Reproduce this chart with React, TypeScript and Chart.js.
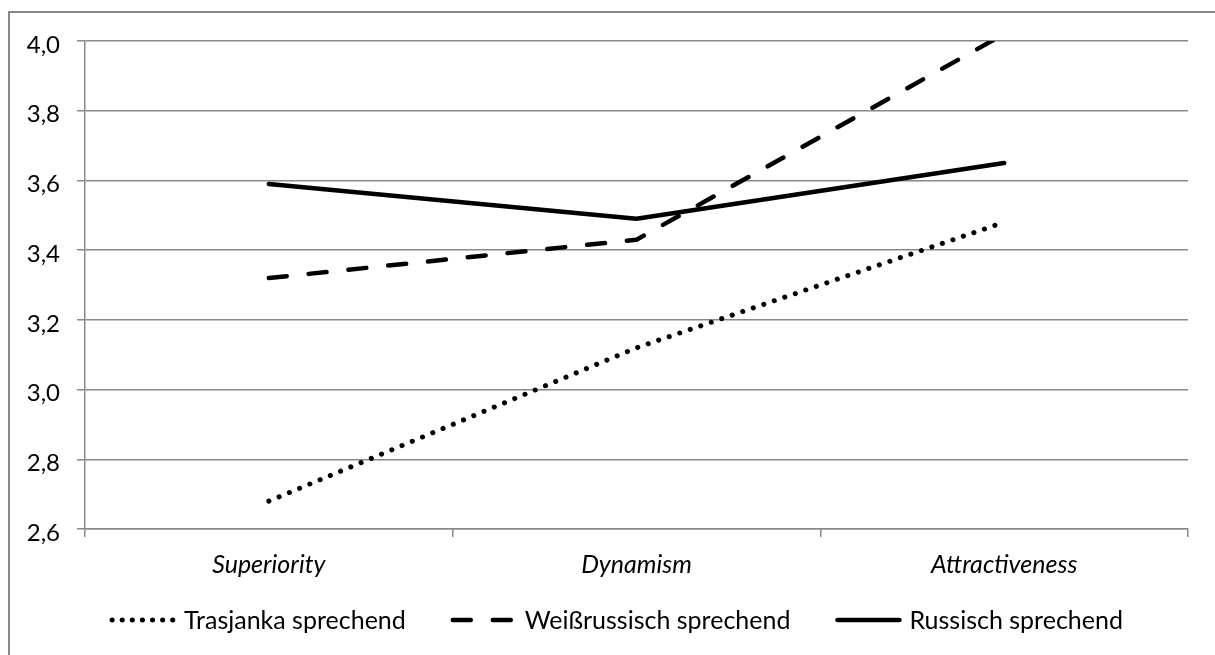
import React, { useEffect, useRef } from "react";
import { Chart, registerables } from "chart.js";

Chart.register(...registerables);

// ---- data ----
const categories = ["Superiority", "Dynamism", "Attractiveness"];
const seriesLabels = ["Trasjanka sprechend", "Weißrussisch sprechend", "Russisch sprechend"];
const trasjanka = [2.68, 3.12, 3.48];
const weissrussisch = [3.32, 3.43, 4.02];
const russisch = [3.59, 3.49, 3.65];
const yMin = 2.6;
const yMax = 4.0;
const yStep = 0.2;

// ---- styles ----
const FONT = "Lato";
const GRID = "#898989";
const W = 1215;
const H = 655;

const framePlugin = {
  id: "frame",
  beforeDraw(chart: any) {
    const ctx = chart.ctx;
    ctx.save();
    ctx.fillStyle = "#ffffff";
    ctx.fillRect(0, 0, W, H);
    ctx.strokeStyle = GRID;
    ctx.lineWidth = 2;
    ctx.beginPath();
    ctx.moveTo(9, H);
    ctx.lineTo(9, 12);
    ctx.lineTo(W, 12);
    ctx.stroke();
    ctx.restore();
  },
};

const legendPlugin = {
  id: "customLegend",
  afterDraw(chart: any) {
    const ctx = chart.ctx;
    ctx.save();
    ctx.font = `25px ${FONT}`;
    const sampleW = 66;
    const gapText = 8;
    const gapItem = 45;
    const items = chart.data.datasets.map((ds: any) => ({
      ds,
      label: ds.label as string,
      w: ctx.measureText(ds.label).width,
    }));
    const total =
      items.reduce((s: number, it: any) => s + sampleW + gapText + it.w, 0) +
      gapItem * (items.length - 1);
    let x = 616.5 - total / 2;
    const y = 620;
    items.forEach((it: any) => {
      ctx.beginPath();
      const dash = it.ds.legendDash || it.ds.borderDash || [];
      ctx.setLineDash(dash);
      ctx.lineCap = "round";
      ctx.lineWidth = it.ds.borderWidth;
      ctx.strokeStyle = "#000";
      ctx.moveTo(x + 2, y);
      ctx.lineTo(x + sampleW - 2, y);
      ctx.stroke();
      ctx.setLineDash([]);
      ctx.fillStyle = "#000";
      ctx.textBaseline = "middle";
      ctx.textAlign = "left";
      ctx.fillText(it.label, x + sampleW + gapText, y + 1);
      x += sampleW + gapText + it.w + gapItem;
    });
    ctx.restore();
  },
};

export default function App() {
  const ref = useRef<HTMLCanvasElement | null>(null);

  useEffect(() => {
    if (!ref.current) return;
    const common = {
      fill: false,
      tension: 0,
      pointRadius: 0,
      pointHoverRadius: 0,
      borderColor: "#000000",
      backgroundColor: "#000000",
      borderCapStyle: "round" as const,
      borderJoinStyle: "round" as const,
      clip: 0,
    };
    const chart = new Chart(ref.current, {
      type: "line",
      data: {
        labels: categories,
        datasets: [
          { ...common, label: seriesLabels[0], data: trasjanka, borderWidth: 5, borderDash: [0.1, 11], legendDash: [0.1, 10] },
          { ...common, label: seriesLabels[1], data: weissrussisch, borderWidth: 4.5, borderDash: [18, 22] },
          { ...common, label: seriesLabels[2], data: russisch, borderWidth: 4.5, borderDash: [] },
        ],
      },
      options: {
        animation: false,
        responsive: false,
        devicePixelRatio: 1,
        layout: { padding: { left: 0, right: 27, top: 41, bottom: 66 } },
        plugins: {
          legend: { display: false },
          tooltip: { enabled: false },
          title: { display: false },
        },
        events: [],
        scales: {
          x: {
            type: "category",
            offset: true,
            grid: {
              display: true,
              offset: true,
              drawOnChartArea: false,
              drawTicks: true,
              tickLength: 8,
              color: GRID,
              lineWidth: 1.5,
            },
            border: { display: true, color: GRID, width: 1.5 },
            ticks: {
              color: "#000",
              padding: 13,
              font: { family: FONT, size: 25, style: "italic" },
              maxRotation: 0,
              autoSkip: false,
            },
            afterFit(scale: any) {
              scale.height = 60;
            },
          },
          y: {
            type: "linear",
            min: yMin,
            max: yMax,
            grid: {
              display: true,
              drawTicks: true,
              tickLength: 8,
              color: GRID,
              lineWidth: 1.5,
            },
            border: { display: true, color: GRID, width: 1.5 },
            ticks: {
              stepSize: yStep,
              color: "#000",
              padding: 17,
              labelOffset: 4,
              font: { family: FONT, size: 24 },
              callback: (v: any) => Number(v).toFixed(1).replace(".", ","),
            },
            afterFit(scale: any) {
              scale.width = 85;
            },
          },
        },
      },
      plugins: [framePlugin, legendPlugin],
    } as any);
    return () => chart.destroy();
  }, []);

  return (
    <div style={{ position: "fixed", left: 0, top: 0, width: W, height: H, background: "#fff" }}>
      <canvas ref={ref} width={W} height={H} style={{ display: "block", width: W, height: H }} />
    </div>
  );
}
